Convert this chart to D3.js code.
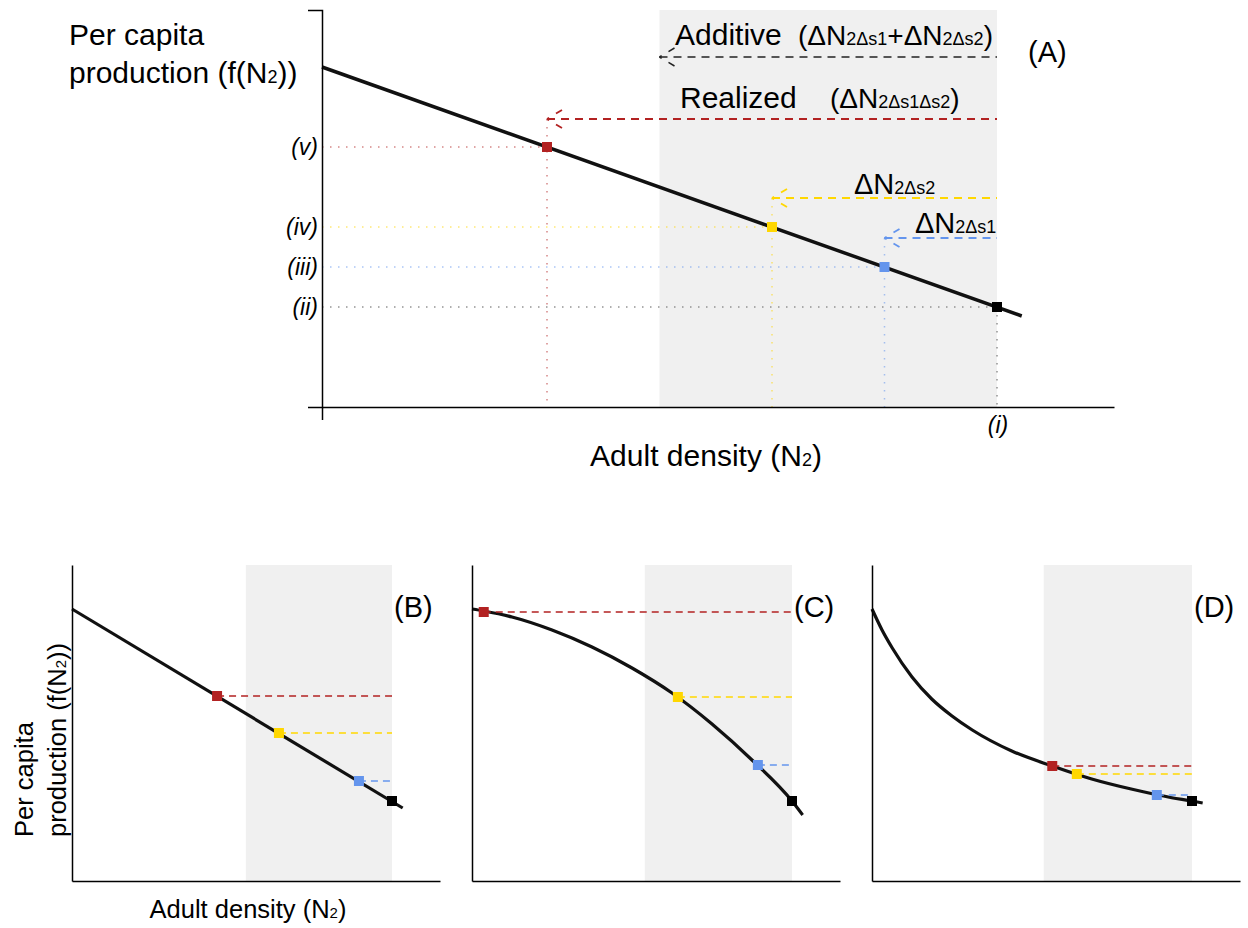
<!DOCTYPE html>
<html><head><meta charset="utf-8">
<script src="https://cdn.jsdelivr.net/npm/d3@7"></script>
<style>body{margin:0;background:#fff} svg{display:block} text{font-family:"Liberation Sans",Arial,Helvetica,sans-serif;fill:#000}</style>
</head><body>
<svg id="chart" width="1248" height="928"></svg>
<script>
// ---------------- DATA ----------------
const colors = ["#B22222", "#FFD700", "#6495ED", "#000000"]; // realized/s1s2, s2, s1, baseline
// Panel A (linear)
const aLineN = [0, 31.1];
const aLineF = [34, 9.1];
const aPointN = [10, 20, 25, 30];
const aPointF = [26, 18, 14, 10];
const aArrowF = [28.8, 20.9, 16.9];        // realized, ΔN2Δs2, ΔN2Δs1 levels
const aAdditiveN = 15;
const aAdditiveF = 35.0;
const aShade = [15, 30];
const aRoman = ["(v)", "(iv)", "(iii)", "(ii)"];
// Panel B (linear)
const bCurveN = [0, 31.0];
const bCurveF = [27.2, 7.3];
const bPointN = [13.6, 19.4, 26.9, 30];
const bPointF = [18.5, 14.8, 10.0, 8.0];
const bShade = [16.3, 30];
// Panel C (concave)
const cCurveN = [0, 1.1, 3.75, 7.5, 11.25, 15, 18.75, 22.5, 26.25, 30, 31];
const cCurveF = [27.2, 27.0, 26.4, 25.1, 23.4, 21.3, 18.8, 15.7, 12.1, 8.0, 6.6];
const cPointN = [1.1, 19.3, 26.8, 30];
const cPointF = [26.9, 18.4, 11.6, 8.0];
const cShade = [16.2, 30];
// Panel D (convex)
const dCurveN = [0, 0.94, 1.9, 3.75, 5.6, 7.5, 9.4, 13.1, 16.9, 20.6, 24.4, 28.1, 30, 31];
const dCurveF = [27.2, 25.1, 23.3, 20.4, 18.2, 16.5, 15.1, 13.0, 11.5, 10.2, 9.17, 8.33, 8.0, 7.8];
const dPointN = [16.9, 19.2, 26.7, 30];
const dPointF = [11.5, 10.7, 8.6, 8.0];
const dShade = [16.1, 30];
const panelLetters = ["(B)", "(C)", "(D)"];

// ---------------- HELPERS ----------------
const svg = d3.select("#chart");
const FONT_MAIN = 30;

function rich(g, x, y, parts, anchor) {
  const t = g.append("text").attr("x", x).attr("y", y).attr("text-anchor", anchor || "start");
  parts.forEach(p => {
    const ts = t.append("tspan").text(p[0]).attr("font-size", p[1]);
    if (p[2] !== undefined) ts.attr("x", p[2]);
  });
  return t;
}
function arrowHead(g, x, y, color, w) {
  [-1, 1].forEach(s => {
    g.append("line").attr("x1", x + 15).attr("y1", y + s * 9).attr("x2", x).attr("y2", y)
      .attr("stroke", color).attr("stroke-width", w).attr("stroke-dasharray", "7,8");
  });
}

// ---------------- PANEL A ----------------
const xA = d3.scaleLinear().domain([0, 35.2]).range([322, 1114]);
const yA = d3.scaleLinear().domain([0, 39.7]).range([407, 10]);
const gA = svg.append("g");

gA.append("rect").attr("x", xA(aShade[0])).attr("y", yA(39.7))
  .attr("width", xA(aShade[1]) - xA(aShade[0])).attr("height", yA(0) - yA(39.7))
  .attr("fill", "#F0F0F0");

// dotted guides
aPointN.forEach((n, i) => {
  const col = i === 3 ? "#888" : colors[i];
  gA.append("line").attr("x1", xA(0)).attr("x2", xA(n)).attr("y1", yA(aPointF[i])).attr("y2", yA(aPointF[i]))
    .attr("stroke", col).attr("stroke-opacity", i === 3 ? 0.9 : 0.55).attr("stroke-width", 1.5).attr("stroke-dasharray", "1.5,6.5");
  const top = i < 3 ? aArrowF[i] : aPointF[i];
  gA.append("line").attr("x1", xA(n)).attr("x2", xA(n)).attr("y1", yA(top)).attr("y2", yA(0))
    .attr("stroke", col).attr("stroke-opacity", i === 3 ? 0.9 : 0.55).attr("stroke-width", 1.5).attr("stroke-dasharray", "1.5,6.5");
});

// main line
const lineA = d3.line().x(d => xA(d[0])).y(d => yA(d[1]));
gA.append("path").datum(d3.zip(aLineN, aLineF)).attr("d", lineA)
  .attr("fill", "none").attr("stroke", "#111").attr("stroke-width", 3.5);

// dashed arrows
aArrowF.forEach((f, i) => {
  gA.append("line").attr("x1", xA(aPointN[i])).attr("x2", xA(aShade[1])).attr("y1", yA(f)).attr("y2", yA(f))
    .attr("stroke", colors[i]).attr("stroke-width", 1.8).attr("stroke-dasharray", "8,6");
  arrowHead(gA, xA(aPointN[i]), yA(f), colors[i], 1.8);
});
gA.append("line").attr("x1", xA(aAdditiveN)).attr("x2", xA(aShade[1])).attr("y1", yA(aAdditiveF)).attr("y2", yA(aAdditiveF))
  .attr("stroke", "#222").attr("stroke-width", 1.5).attr("stroke-dasharray", "8,6");
arrowHead(gA, xA(aAdditiveN), yA(aAdditiveF), "#222", 1.5);

// points
aPointN.forEach((n, i) => {
  gA.append("rect").attr("x", xA(n) - 5).attr("y", yA(aPointF[i]) - 5).attr("width", 10).attr("height", 10)
    .attr("fill", colors[i]);
});

// axes
gA.append("g").attr("transform", `translate(${xA(0)},0)`)
  .call(d3.axisLeft(yA).tickValues([]).tickSizeOuter(14))
  .call(g => g.select(".domain").attr("stroke-width", 1.5));
gA.append("g").attr("transform", `translate(0,${yA(0)})`)
  .call(d3.axisBottom(xA).tickValues([0]).tickSize(13).tickSizeOuter(0).tickFormat(""))
  .call(g => { g.select(".domain").attr("stroke-width", 1.5); g.selectAll(".tick line").attr("stroke-width", 1.5); });

// roman labels
aRoman.forEach((r, i) => {
  gA.append("text").attr("x", xA(0) - 4).attr("y", yA(aPointF[i]) + 8).attr("text-anchor", "end")
    .attr("font-size", 23).attr("font-style", "italic").text(r);
});
gA.append("text").attr("x", xA(aPointN[3]) + 1).attr("y", 433).attr("text-anchor", "middle")
  .attr("font-size", 23).attr("font-style", "italic").text("(i)");

// annotations
rich(gA, 675, 45, [["Additive", 30], ["(ΔN", 28, 798], ["2Δs1", 18], ["+ΔN", 28], ["2Δs2", 18], [")", 28]]);
rich(gA, 680, 108, [["Realized", 30], ["(ΔN", 28, 830], ["2Δs1Δs2", 18], [")", 28]]);
rich(gA, 854, 194, [["ΔN", 29], ["2Δs2", 18]]);
rich(gA, 915, 233, [["ΔN", 29], ["2Δs1", 18]]);
gA.append("text").attr("x", 1028).attr("y", 62).attr("font-size", 29).text("(A)");

// axis titles
rich(gA, 69, 45, [["Per capita", FONT_MAIN]]);
rich(gA, 69, 83, [["production (f(N", FONT_MAIN], ["2", 18], ["))", FONT_MAIN]]);
rich(gA, 706, 466, [["Adult density (N", FONT_MAIN], ["2", 18], [")", FONT_MAIN]], "middle");

// ---------------- BOTTOM PANELS ----------------
const panels = [
  { x0: 72, curveN: bCurveN, curveF: bCurveF, pN: bPointN, pF: bPointF, shade: bShade, curve: d3.curveLinear },
  { x0: 472, curveN: cCurveN, curveF: cCurveF, pN: cPointN, pF: cPointF, shade: cShade, curve: d3.curveMonotoneX },
  { x0: 872, curveN: dCurveN, curveF: dCurveF, pN: dPointN, pF: dPointF, shade: dShade, curve: d3.curveMonotoneX }
];
panels.forEach((p, k) => {
  const x = d3.scaleLinear().domain([0, 34.5]).range([p.x0, p.x0 + 368]);
  const y = d3.scaleLinear().domain([0, 31.6]).range([881, 565]);
  const g = svg.append("g");
  g.append("rect").attr("x", x(p.shade[0])).attr("y", y(31.6)).attr("width", x(p.shade[1]) - x(p.shade[0]))
    .attr("height", y(0) - y(31.6)).attr("fill", "#F0F0F0");
  const line = d3.line().x(d => x(d[0])).y(d => y(d[1])).curve(p.curve);
  g.append("path").datum(d3.zip(p.curveN, p.curveF)).attr("d", line)
    .attr("fill", "none").attr("stroke", "#111").attr("stroke-width", 3.2);
  for (let i = 0; i < 3; i++) {
    g.append("line").attr("x1", x(p.pN[i])).attr("x2", x(p.shade[1])).attr("y1", y(p.pF[i])).attr("y2", y(p.pF[i]))
      .attr("stroke", colors[i]).attr("stroke-width", 1.5).attr("stroke-dasharray", "7,5");
  }
  p.pN.forEach((n, i) => {
    g.append("rect").attr("x", x(n) - 5).attr("y", y(p.pF[i]) - 5).attr("width", 10).attr("height", 10).attr("fill", colors[i]);
  });
  g.append("g").attr("transform", `translate(${x(0)},0)`).call(d3.axisLeft(y).tickValues([]).tickSizeOuter(0))
    .call(s => s.select(".domain").attr("stroke-width", 1.5));
  g.append("g").attr("transform", `translate(0,${y(0)})`).call(d3.axisBottom(x).tickValues([]).tickSizeOuter(0))
    .call(s => s.select(".domain").attr("stroke-width", 1.5));
  g.append("text").attr("x", x(p.shade[1]) + 2).attr("y", 617).attr("font-size", 29).text(panelLetters[k]);
});

// bottom axis titles
const gb = svg.append("g");
rich(gb, 248, 918, [["Adult density (N", 25.5], ["2", 15], [")", 25.5]], "middle");
rich(gb, 0, 0, [["Per capita", 25.5]]).attr("transform", "translate(33,837) rotate(-90)");
rich(gb, 0, 0, [["production (f(N", 25.5], ["2", 15], ["))", 25.5]]).attr("transform", "translate(66,837) rotate(-90)");
</script>
</body></html>
